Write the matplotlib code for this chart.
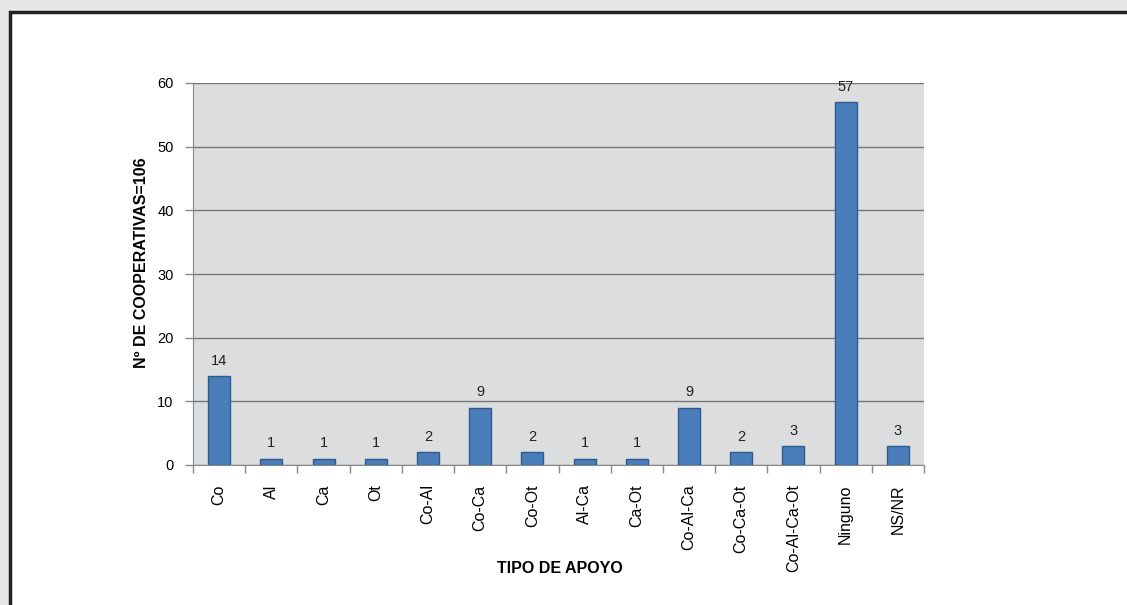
import matplotlib
matplotlib.use("Agg")
import matplotlib.pyplot as plt
from matplotlib.patches import Rectangle
import numpy as np

# datos
categorias = ["Co", "Al", "Ca", "Ot", "Co-Al", "Co-Ca", "Co-Ot", "Al-Ca", "Ca-Ot",
              "Co-Al-Ca", "Co-Ca-Ot", "Co-Al-Ca-Ot", "Ninguno", "NS/NR"]
valores = [14, 1, 1, 1, 2, 9, 2, 1, 1, 9, 2, 3, 57, 3]
yticks = [0, 10, 20, 30, 40, 50, 60]

plt.rcParams["font.family"] = ["Liberation Sans", "DejaVu Sans"]

fig = plt.figure(figsize=(11.27, 6.05), dpi=100, facecolor="#e6e7e8")

# marco blanco con borde oscuro
marco = Rectangle((10 / 1127, -0.02), 1.2, 1 - 12 / 605 + 0.02, transform=fig.transFigure,
                  facecolor="white", edgecolor="#232323", linewidth=2.5, zorder=-5)
fig.patches.append(marco)

ax = fig.add_axes([193 / 1127, 1 - 465 / 605, (924 - 193) / 1127, (465 - 83) / 605])
ax.set_zorder(2)
ax.set_facecolor("#dcdddf")

x = np.arange(len(categorias))
ax.bar(x, valores, width=0.42, color="#4a7ebb", edgecolor="#2e5a8e", linewidth=1.0, zorder=3)

for xi, v in zip(x, valores):
    ax.text(xi, v + 1.3, str(v), ha="center", va="bottom", fontsize=10.5, color="#222222")

ax.set_xlim(-0.5, len(categorias) - 0.5)
ax.set_ylim(0, 60)
ax.set_yticks(yticks)
ax.yaxis.grid(True, color="#737778", linewidth=1.0, zorder=1)
ax.set_axisbelow(True)

# ticks del eje x en los limites entre categorias
ax.set_xticks(np.arange(-0.5, len(categorias) + 0.5, 1.0), minor=False)
ax.set_xticklabels([])
ax.set_xticks(x, minor=True)
ax.set_xticklabels(categorias, minor=True, rotation=90, fontsize=11.5)
ax.tick_params(axis="x", which="minor", length=0, pad=14)
ax.tick_params(axis="x", which="major", length=6, color="#888888", width=1)
ax.tick_params(axis="y", length=6, color="#888888", width=1, labelsize=10.5, pad=8)

for s in ["top", "right"]:
    ax.spines[s].set_visible(False)
ax.spines["left"].set_color("#888888")
ax.spines["bottom"].set_color("#888888")

ax.set_ylabel("Nº DE COOPERATIVAS=106", fontsize=11.5, fontweight="bold", va="center")
ax.yaxis.set_label_coords(-0.071, 0.53)
ax.set_xlabel("TIPO DE APOYO", fontsize=11.5, fontweight="bold", va="center")
ax.xaxis.set_label_coords(0.502, -0.27)

plt.savefig("out.png", dpi=100, facecolor=fig.get_facecolor())
